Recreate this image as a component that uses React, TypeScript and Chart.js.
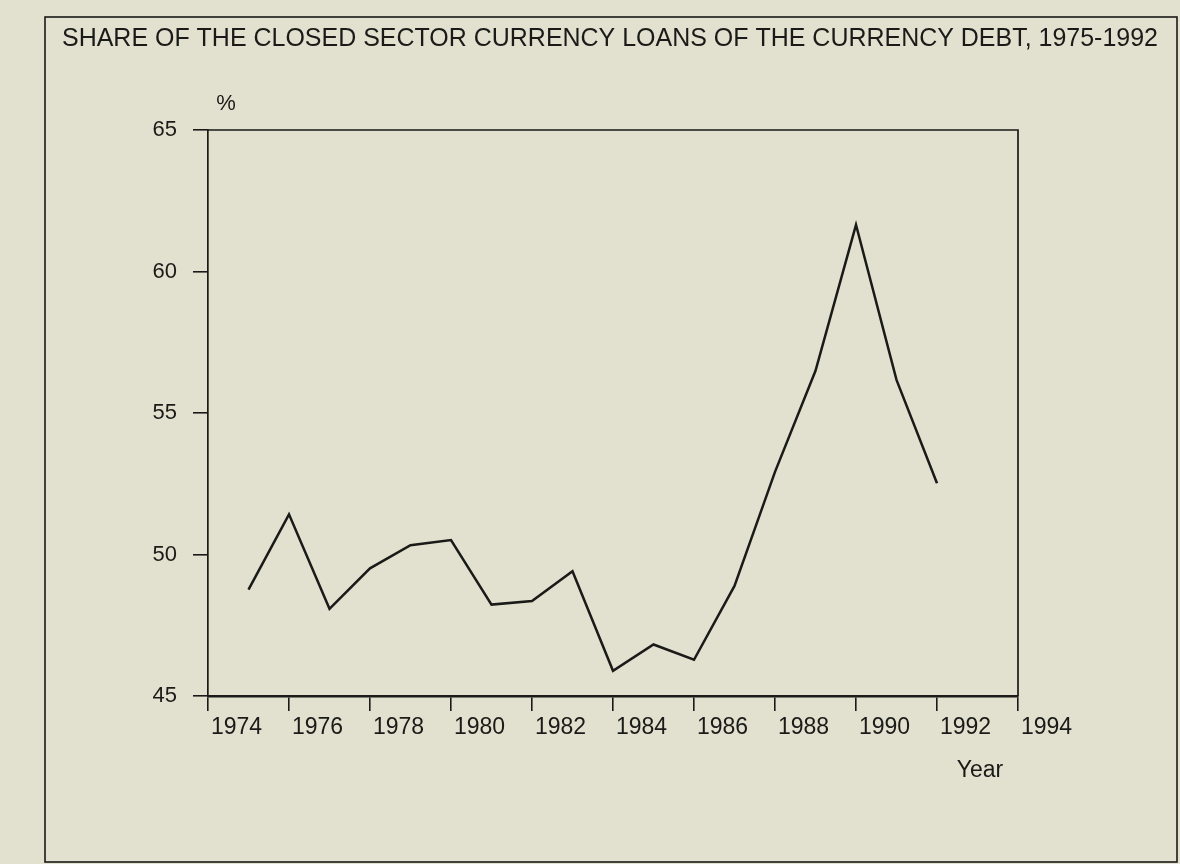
import React, { useEffect, useRef } from 'react';
import { Chart, registerables } from 'chart.js';

Chart.register(...registerables);

// ---- data ----
const chartTitle = 'SHARE OF THE CLOSED SECTOR CURRENCY LOANS OF THE CURRENCY DEBT, 1975-1992';
const yUnitLabel = '%';
const xAxisLabel = 'Year';
const years = [1975, 1976, 1977, 1978, 1979, 1980, 1981, 1982, 1983, 1984, 1985, 1986, 1987, 1988, 1989, 1990, 1991, 1992];
const sharePercent = [48.76, 51.42, 48.08, 49.51, 50.33, 50.51, 48.23, 48.36, 49.41, 45.89, 46.82, 46.28, 48.89, 52.92, 56.49, 61.65, 56.17, 52.52];
const xTickYears = [1974, 1976, 1978, 1980, 1982, 1984, 1986, 1988, 1990, 1992, 1994];
const yTickValues = [45, 50, 55, 60, 65];

// ---- style ----
const BG = '#e2e1cf';
const INK = '#1a1a18';
const FONT = '"Liberation Sans", Arial, Helvetica, sans-serif';
const W = 1180;
const H = 864;

const decorPlugin = {
  id: 'decor',
  beforeDraw(chart: any) {
    const ctx = chart.ctx;
    ctx.save();
    ctx.fillStyle = BG;
    ctx.fillRect(0, 0, chart.width, chart.height);
    ctx.restore();
  },
  afterDraw(chart: any) {
    const ctx = chart.ctx;
    const a = chart.chartArea;
    ctx.save();
    ctx.strokeStyle = INK;
    ctx.fillStyle = INK;
    // plot frame: top and right sides
    ctx.lineWidth = 1.7;
    ctx.beginPath();
    ctx.moveTo(a.left, a.top);
    ctx.lineTo(a.right, a.top);
    ctx.lineTo(a.right, a.bottom);
    ctx.stroke();
    // outer figure frame
    ctx.lineWidth = 1.6;
    ctx.strokeRect(45, 17, 1132, 845);
    // title, fitted to its printed width (condensed face)
    ctx.font = `25px ${FONT}`;
    ctx.textBaseline = 'alphabetic';
    ctx.textAlign = 'left';
    const tw = ctx.measureText(chartTitle).width;
    const target = 1096;
    ctx.save();
    ctx.translate(62, 46);
    ctx.scale(target / tw, 1);
    ctx.fillText(chartTitle, 0, 0);
    ctx.restore();
    // unit label
    ctx.font = `22px ${FONT}`;
    ctx.textAlign = 'center';
    ctx.textBaseline = 'middle';
    ctx.fillText(yUnitLabel, a.left + 18, a.top - 26);
    // x axis name
    ctx.font = `23px ${FONT}`;
    ctx.fillText(xAxisLabel, a.right - 38, a.bottom + 75);
    ctx.restore();
  },
};

export default function App() {
  const ref = useRef<HTMLCanvasElement | null>(null);

  useEffect(() => {
    if (!ref.current) return;
    const chart = new Chart(ref.current, {
      type: 'line',
      data: {
        datasets: [
          {
            label: chartTitle,
            data: years.map((y, i) => ({ x: y, y: sharePercent[i] })),
            borderColor: INK,
            borderWidth: 2.5,
            pointRadius: 0,
            tension: 0,
            fill: false,
          },
        ],
      },
      options: {
        responsive: false,
        animation: false,
        devicePixelRatio: 1,
        layout: { padding: { top: 130, right: 162, left: 0, bottom: 0 } },
        plugins: {
          legend: { display: false },
          tooltip: { enabled: false },
          title: { display: false },
        },
        scales: {
          x: {
            type: 'linear',
            position: 'bottom',
            min: 1974,
            max: 1994,
            afterFit: (s: any) => {
              s.height = 168;
            },
            afterBuildTicks: (s: any) => {
              s.ticks = xTickYears.map((v) => ({ value: v }));
            },
            ticks: {
              align: 'start',
              labelOffset: 3,
              padding: 3,
              autoSkip: false,
              maxRotation: 0,
              minRotation: 0,
              color: INK,
              font: { family: FONT, size: 23 },
              callback: (v: any) => String(v),
            },
            grid: {
              drawOnChartArea: false,
              drawTicks: true,
              tickLength: 15,
              color: INK,
              lineWidth: 1.6,
            },
            border: { display: true, color: INK, width: 2.4 },
          },
          y: {
            type: 'linear',
            min: 45,
            max: 65,
            afterFit: (s: any) => {
              s.width = 208;
            },
            afterBuildTicks: (s: any) => {
              s.ticks = yTickValues.map((v) => ({ value: v }));
            },
            ticks: {
              padding: 16,
              color: INK,
              font: { family: FONT, size: 22 },
              callback: (v: any) => String(v),
            },
            grid: {
              drawOnChartArea: false,
              drawTicks: true,
              tickLength: 15,
              color: INK,
              lineWidth: 1.6,
            },
            border: { display: true, color: INK, width: 1.7 },
          },
        },
      },
      plugins: [decorPlugin],
    } as any);
    return () => chart.destroy();
  }, []);

  return (
    <div style={{ position: 'fixed', left: 0, top: 0, width: W, height: H, background: BG }}>
      <canvas ref={ref} width={W} height={H} style={{ display: 'block', width: W, height: H }} />
    </div>
  );
}
